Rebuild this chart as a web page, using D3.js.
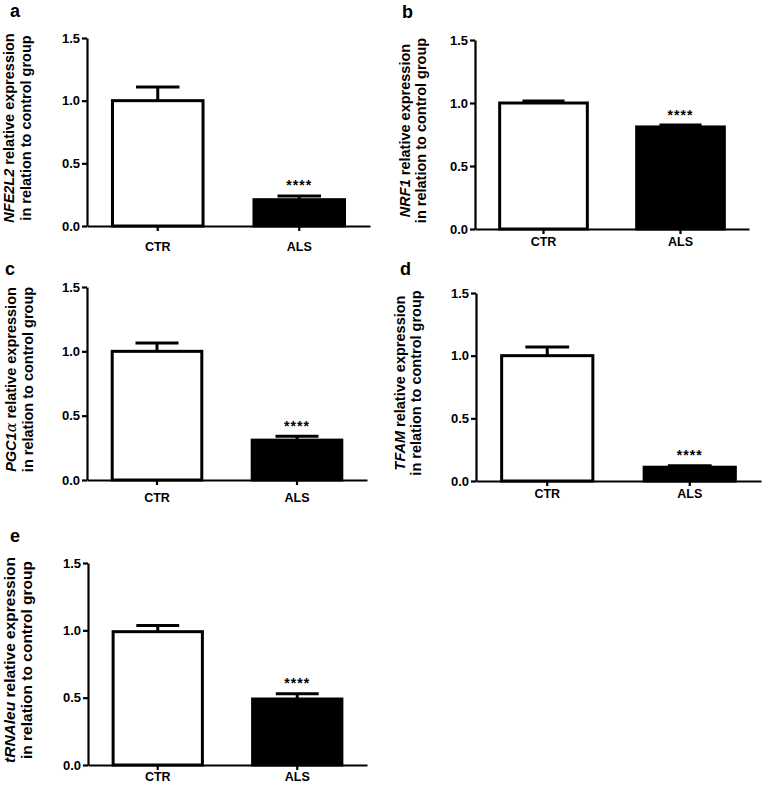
<!DOCTYPE html>
<html lang="en">
<head>
<meta charset="UTF-8">
<title>Relative expression</title>
<script src="https://cdn.jsdelivr.net/npm/d3@7"></script>
<style>
  body { margin: 0; background: #fff; }
  svg { display: block; font-family: "Liberation Sans", Arial, sans-serif; font-weight: bold; }
</style>
</head>
<body>
<div id="graphDiv"></div>
<script>
// values (mean and SEM, relative to control)
var panelLetters = ["a", "b", "c", "d", "e"]
var genes = ["NFE2L2", "NRF1", "PGC1α", "TFAM", "tRNAleu"]
var groups = ["CTR", "ALS"]
var ctrMean = [1.00, 1.00, 1.00, 1.00, 0.99]
var ctrSem = [0.11, 0.015, 0.065, 0.07, 0.045]
var alsMean = [0.21, 0.81, 0.31, 0.11, 0.49]
var alsSem = [0.03, 0.015, 0.03, 0.012, 0.04]
var yTicks = [0.0, 0.5, 1.0, 1.5]
var stars = "****"

// where each panel sits on the page
var layout = [
    {x0: 87, x1: 370, top: 38, bottom: 226, lx: 10, ly: 16.5, t1: 73, t2: 56, xl: 25, tf: 14.5},
    {x0: 475, x1: 749, top: 40, bottom: 229, lx: 402, ly: 17.5, t1: 65, t2: 49, xl: 17, tf: 14.5},
    {x0: 87, x1: 367, top: 287, bottom: 480, lx: 5, ly: 275, t1: 71, t2: 54, xl: 22, tf: 14.5},
    {x0: 476, x1: 761, top: 293, bottom: 481, lx: 400, ly: 275, t1: 71, t2: 55, xl: 17, tf: 14.5},
    {x0: 88, x1: 367, top: 563, bottom: 765, lx: 10, ly: 542, t1: 73, t2: 56, xl: 16, tf: 15.5}
]

var svg = d3.select('#graphDiv')
    .append('svg')
    .attr('width', 762)
    .attr('height', 788)

panelLetters.forEach(function (letter, i) {
    var L = layout[i]
    var y = d3.scaleLinear().domain([0, 1.5]).range([L.bottom, L.top])
    var x = d3.scaleBand().domain(groups).range([L.x0, L.x1])
        .paddingInner(0.36).paddingOuter(0.18)
    var g = svg.append('g')

    var rows = groups.map(function (grp, j) {
        return {
            group: grp,
            mean: j == 0 ? ctrMean[i] : alsMean[i],
            sem: j == 0 ? ctrSem[i] : alsSem[i]
        }
    })
    var capW = x.bandwidth() * 0.48

    // error bars (upper half only)
    g.selectAll('line.stem').data(rows).enter().append('line')
        .attr('x1', d => x(d.group) + x.bandwidth() / 2)
        .attr('x2', d => x(d.group) + x.bandwidth() / 2)
        .attr('y1', d => y(d.mean))
        .attr('y2', d => y(d.mean + d.sem))
        .attr('stroke', '#000').attr('stroke-width', 3)
    g.selectAll('line.cap').data(rows).enter().append('line')
        .attr('x1', d => x(d.group) + x.bandwidth() / 2 - capW / 2)
        .attr('x2', d => x(d.group) + x.bandwidth() / 2 + capW / 2)
        .attr('y1', d => y(d.mean + d.sem))
        .attr('y2', d => y(d.mean + d.sem))
        .attr('stroke', '#000').attr('stroke-width', 3)

    // bars
    g.selectAll('rect').data(rows).enter().append('rect')
        .attr('x', d => x(d.group))
        .attr('width', x.bandwidth())
        .attr('y', d => y(d.mean))
        .attr('height', d => y(0) - y(d.mean))
        .attr('fill', (d, j) => j == 0 ? '#fff' : '#000')
        .attr('stroke', '#000').attr('stroke-width', 3)

    // significance stars over ALS
    g.append('text')
        .attr('x', x('ALS') + x.bandwidth() / 2)
        .attr('y', y(rows[1].mean + rows[1].sem) - 5.5)
        .attr('text-anchor', 'middle')
        .attr('font-size', 14)
        .attr('letter-spacing', 1)
        .text(stars)

    // axes
    var yAxis = g.append('g')
        .attr('transform', `translate(${L.x0},0)`)
        .call(d3.axisLeft(y).tickValues(yTicks).tickFormat(d3.format('.1f'))
            .tickSize(5).tickSizeOuter(0).tickPadding(2))
    var xAxis = g.append('g')
        .attr('transform', `translate(0,${L.bottom})`)
        .call(d3.axisBottom(x).tickSize(5).tickSizeOuter(0))
    yAxis.selectAll('text').attr('font-size', 13).attr('font-family', null).attr('fill', '#000')
    xAxis.selectAll('text').attr('font-size', 12.5).attr('font-family', null).attr('fill', '#000')
        .attr('y', L.xl).attr('dy', 0)
    g.selectAll('.domain, .tick line').attr('stroke', '#000').attr('stroke-width', 2.2)

    // panel letter
    g.append('text')
        .attr('x', L.lx).attr('y', L.ly)
        .attr('font-size', 18)
        .text(letter)

    // two-line y axis title, gene name in italics
    var cy = (L.top + L.bottom) / 2 - 4
    var t1 = g.append('text')
        .attr('transform', `translate(${L.x0 - L.t1},${cy}) rotate(-90)`)
        .attr('text-anchor', 'middle')
        .attr('font-size', L.tf)
    if (genes[i] == "PGC1α") {
        t1.append('tspan').attr('font-style', 'italic').text('PGC1')
        t1.append('tspan').attr('font-style', 'italic').attr('font-family', 'DejaVu Serif').attr('font-weight', 'normal').text('α')
    } else {
        t1.append('tspan').attr('font-style', 'italic').text(genes[i])
    }
    t1.append('tspan').text(' relative expression')
    g.append('text')
        .attr('transform', `translate(${L.x0 - L.t2},${cy}) rotate(-90)`)
        .attr('text-anchor', 'middle')
        .attr('font-size', L.tf)
        .text('in relation to control group')
})
</script>
</body>
</html>
